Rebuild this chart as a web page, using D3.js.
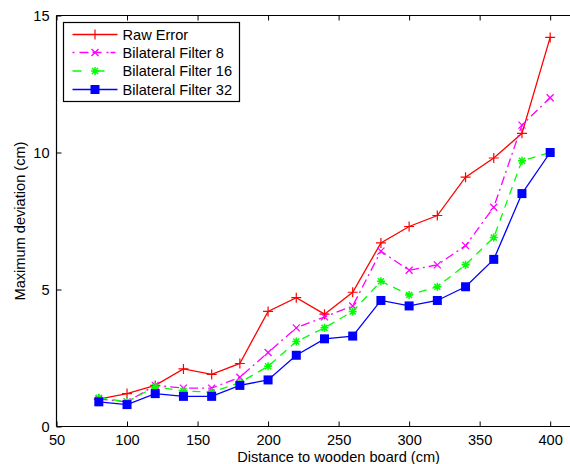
<!DOCTYPE html>
<html><head><meta charset="utf-8">
<script src="https://cdn.jsdelivr.net/npm/d3@7"></script>
<style>body{margin:0;background:#fff}svg{display:block}text{font-family:"Liberation Sans",Arial,sans-serif}</style>
</head><body>
<script>
const distances = [80,100,120,140,160,180,200,220,240,260,280,300,320,340,360,380,400];
const rawError   = [1.0,1.2,1.5,2.1,1.9,2.3,4.2,4.7,4.1,4.9,6.7,7.3,7.7,9.1,9.8,10.7,14.2];
const bilateral8 = [1.0,0.9,1.5,1.4,1.4,1.8,2.7,3.6,4.0,4.4,6.4,5.7,5.9,6.6,8.0,11.0,12.0];
const bilateral16= [1.05,0.9,1.45,1.3,1.25,1.6,2.2,3.1,3.6,4.2,5.3,4.8,5.1,5.9,6.9,9.7,10.0];
const bilateral32= [0.9,0.8,1.2,1.1,1.1,1.5,1.7,2.6,3.2,3.3,4.6,4.4,4.6,5.1,6.1,8.5,10.0];
const seriesNames = ["Raw Error","Bilateral Filter 8","Bilateral Filter 16","Bilateral Filter 32"];
const xTicks = [50,100,150,200,250,300,350,400];
const yTicks = [0,5,10,15];

const W=570,H=464,FS=14.6;
const svg=d3.select("body").append("svg").attr("width",W).attr("height",H);
const x=d3.scaleLinear().domain([50,450]).range([56.5,620.7]);
const y=d3.scaleLinear().domain([0,15]).range([426.5,15.5]);

const series=[
 {name:seriesNames[0],vals:rawError,color:"#ff0000",dash:null,marker:"plus"},
 {name:seriesNames[1],vals:bilateral8,color:"#ff00ff",dash:"9,4,2,4",marker:"x"},
 {name:seriesNames[2],vals:bilateral16,color:"#00ff00",dash:"8,6",marker:"star"},
 {name:seriesNames[3],vals:bilateral32,color:"#0000ff",dash:null,marker:"square"}
];

// axes frame
const g=svg.append("g");
g.append("line").attr("x1",x(50)).attr("x2",x(450)).attr("y1",y(0)).attr("y2",y(0)).attr("stroke","#000").attr("stroke-width",1.2);
g.append("line").attr("x1",x(50)).attr("x2",x(450)).attr("y1",y(15)).attr("y2",y(15)).attr("stroke","#000").attr("stroke-width",1.2);
g.append("line").attr("x1",x(50)).attr("x2",x(50)).attr("y1",y(0)).attr("y2",y(15)).attr("stroke","#000").attr("stroke-width",1.2);

const xb=svg.append("g").attr("transform",`translate(0,${y(0)})`)
  .call(d3.axisBottom(x).tickValues(xTicks).tickSize(-5).tickPadding(9).tickFormat(d3.format("d")));
const xt=svg.append("g").attr("transform",`translate(0,${y(15)})`)
  .call(d3.axisTop(x).tickValues(xTicks).tickSize(-5).tickFormat(""));
const yl=svg.append("g").attr("transform",`translate(${x(50)},0)`)
  .call(d3.axisLeft(y).tickValues(yTicks).tickSize(-5).tickPadding(7).tickFormat(d3.format("d")));
[xb,xt,yl].forEach(a=>{a.select(".domain").remove();a.selectAll("text").attr("font-size",FS).attr("fill","#000").style("font-family","Liberation Sans, Arial, sans-serif");a.selectAll(".tick line").attr("stroke","#000");});
xb.selectAll("text").attr("dy","0.68em");

svg.append("text").attr("x",(x(50)+x(450))/2).attr("y",462).attr("text-anchor","middle").attr("font-size",FS).text("Distance to wooden board (cm)");
svg.append("text").attr("transform","translate(24.5,221) rotate(-90)").attr("text-anchor","middle").attr("font-size",FS).text("Maximum deviation (cm)");

function drawMarker(sel,type,color){
  if(type==="plus"){
    sel.append("path").attr("d","M-5,0H5M0,-5V5").attr("stroke",color).attr("stroke-width",1.2).attr("fill","none");
  } else if(type==="x"){
    sel.append("path").attr("d","M-3.5,-3.5L3.5,3.5M-3.5,3.5L3.5,-3.5").attr("stroke",color).attr("stroke-width",1.3).attr("fill","none");
  } else if(type==="star"){
    sel.append("path").attr("d","M-4,0H4M0,-4V4M-3,-3L3,3M-3,3L3,-3").attr("stroke",color).attr("stroke-width",1.5).attr("fill","none");
  } else if(type==="square"){
    sel.append("rect").attr("x",-4.5).attr("y",-4.5).attr("width",9).attr("height",9).attr("fill",color);
  }
}

const line=d3.line().x((d,i)=>x(distances[i])).y(d=>y(d));
series.forEach(s=>{
  svg.append("path").datum(s.vals).attr("d",line).attr("fill","none").attr("stroke",s.color).attr("stroke-width",1.3)
    .attr("stroke-dasharray",s.dash);
  svg.append("g").selectAll("g").data(s.vals).join("g")
    .attr("transform",(d,i)=>`translate(${x(distances[i])},${y(d)})`)
    .each(function(){drawMarker(d3.select(this),s.marker,s.color);});
});

// legend
const lg=svg.append("g");
lg.append("rect").attr("x",63.5).attr("y",22.5).attr("width",176).attr("height",79).attr("fill","#fff").attr("stroke","#000").attr("stroke-width",1.2);
const ly=[34.5,52.5,71,89.5];
series.forEach((s,i)=>{
  const r=lg.append("g");
  r.append("line").attr("x1",72.5).attr("x2",117.5).attr("y1",ly[i]).attr("y2",ly[i]).attr("stroke",s.color).attr("stroke-width",1.3).attr("stroke-dasharray",s.dash? (i===1?"2,5,9,4,9,5,2":"9,14"):null);
  drawMarker(r.append("g").attr("transform",`translate(95,${ly[i]})`),s.marker,s.color);
  r.append("text").attr("x",122.5).attr("y",ly[i]).attr("dy","0.36em").attr("font-size",FS).text(s.name);
});
</script>
</body></html>
